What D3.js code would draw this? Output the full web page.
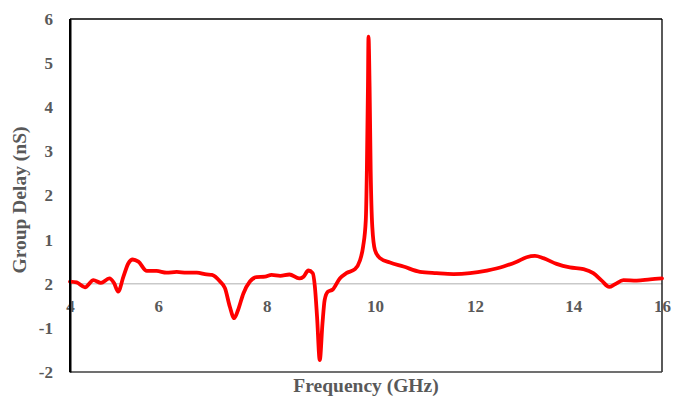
<!DOCTYPE html>
<html><head><meta charset="utf-8">
<script src="https://cdn.jsdelivr.net/npm/d3@7"></script>
<style>
body{margin:0;background:#fff;}
svg text{font-family:"Liberation Serif","Times New Roman",Times,serif !important;font-weight:bold;fill:#595959;}
</style></head>
<body><svg id="c" width="673" height="398"></svg>
<script>
// Frequency (GHz)
const freq = [4.0,4.15,4.34,4.53,4.70,4.89,5.0,5.09,5.21,5.32,5.42,5.55,5.74,5.96,6.15,6.34,6.52,6.71,6.89,6.99,7.14,7.23,7.32,7.40,7.47,7.57,7.69,7.81,7.97,8.09,8.25,8.42,8.60,8.68,8.77,8.85,8.89,8.93,8.98,9.03,9.07,9.13,9.22,9.35,9.47,9.63,9.72,9.78,9.83,9.85,9.87,9.88,9.90,9.92,9.95,10.0,10.10,10.30,10.57,10.90,11.23,11.57,11.90,12.24,12.58,12.85,13.05,13.22,13.39,13.66,13.93,14.23,14.45,14.64,14.81,14.94,15.13,15.43,15.73,16.0];
// Group delay (nS)
const delay = [0.05,0.03,-0.08,0.08,0.02,0.12,0.01,-0.18,0.16,0.46,0.55,0.50,0.29,0.29,0.25,0.27,0.25,0.25,0.21,0.20,0.05,-0.10,-0.52,-0.78,-0.60,-0.22,0.05,0.15,0.16,0.20,0.18,0.21,0.12,0.16,0.30,0.24,-0.07,-0.75,-1.73,-0.90,-0.37,-0.18,-0.13,0.12,0.24,0.33,0.52,0.84,1.44,2.58,4.47,5.60,4.47,2.58,1.29,0.76,0.58,0.48,0.39,0.27,0.24,0.22,0.24,0.30,0.39,0.50,0.60,0.63,0.58,0.45,0.37,0.33,0.24,0.07,-0.07,-0.01,0.08,0.07,0.10,0.12];
const xTicks = [4,6,8,10,12,14,16];
const yTicks = [6,5,4,3,2,1,0,-1,-2];
const yTickLabels = ["6","5","4","3","2","1","2","-1","-2"];

const svg = d3.select("#c");
const L=70,R=662,T=19,B=372;
// category-style axis: label spacing in the original is uneven
const x = d3.scaleLinear().domain(xTicks).range([70,158.3,266.7,375,475,573.3,662]);
const y = d3.scaleLinear().domain([-2,6]).range([B,T]);

svg.append("line").attr("x1",L).attr("x2",R).attr("y1",y(0)).attr("y2",y(0))
  .attr("stroke","#c9c9c9").attr("stroke-width",1.5);

svg.append("line").attr("x1",L).attr("x2",R).attr("y1",T).attr("y2",T).attr("stroke","#000").attr("stroke-width",1.3);
svg.append("line").attr("x1",R).attr("x2",R).attr("y1",T).attr("y2",B).attr("stroke","#000").attr("stroke-width",1.3);
svg.append("line").attr("x1",L).attr("x2",R).attr("y1",B).attr("y2",B).attr("stroke","#404040").attr("stroke-width",1.3);

const ya = svg.append("g").attr("transform",`translate(${L},0)`)
  .call(d3.axisLeft(y).tickValues(yTicks).tickSize(0).tickPadding(17)
    .tickFormat(d=>yTickLabels[yTicks.indexOf(d)]));
ya.attr("font-family",null).attr("font-size",null);
ya.select(".domain").attr("stroke","#000").attr("stroke-width",2);
ya.selectAll("text").style("font-size","17px");

const xa = svg.append("g").attr("transform",`translate(0,${y(0)})`)
  .call(d3.axisBottom(x).tickValues(xTicks).tickSize(0).tickPadding(16).tickFormat(d3.format("d")));
xa.attr("font-family",null).attr("font-size",null);
xa.select(".domain").remove();
xa.selectAll("text").style("font-size","17px");

const line = d3.line().x((d,i)=>x(freq[i])).y(d=>y(d)).curve(d3.curveMonotoneX);
svg.append("path").datum(delay).attr("d",line).attr("fill","none")
  .attr("stroke","#ff0000").attr("stroke-width",3.8).attr("stroke-linejoin","round").attr("stroke-linecap","round");

svg.append("line").attr("x1",L).attr("x2",L).attr("y1",T).attr("y2",B).attr("stroke","#000").attr("stroke-width",2);

svg.append("text").attr("x",(L+R)/2).attr("y",392).attr("text-anchor","middle")
  .style("font-size","19.5px").text("Frequency (GHz)");
svg.append("text").attr("transform","translate(26,200) rotate(-90)").attr("text-anchor","middle")
  .style("font-size","19.5px").text("Group Delay (nS)");
</script></body></html>
